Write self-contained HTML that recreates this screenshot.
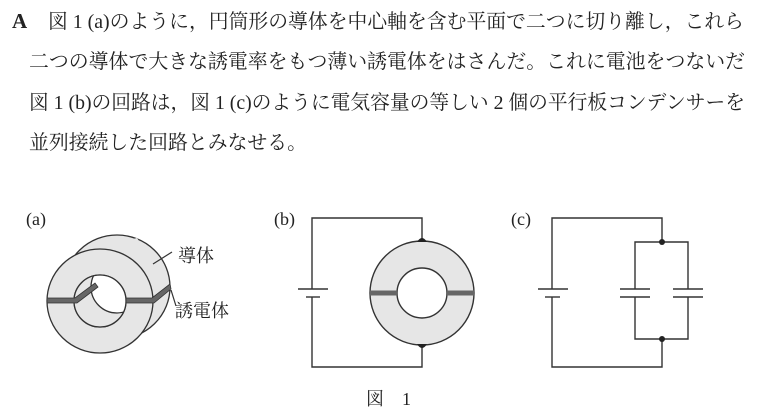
<!DOCTYPE html>
<html><head><meta charset="utf-8"><style>
html,body{margin:0;padding:0;background:#fff;}
svg{display:block}
text{font-family:"Liberation Serif","Noto Serif CJK SC",serif;fill:#222;}
</style></head><body>
<svg width="768" height="418" viewBox="0 0 768 418" xmlns="http://www.w3.org/2000/svg">
<defs><clipPath id="hole"><ellipse cx="100" cy="301" rx="26" ry="26"/></clipPath></defs>
<g font-size="20">
<text x="12" y="28" font-weight="bold" font-size="21">A</text>
<text x="48" y="28" textLength="696" lengthAdjust="spacingAndGlyphs">図 1 (a)のように，円筒形の導体を中心軸を含む平面で二つに切り離し，これら</text>
<text x="29" y="68" textLength="716" lengthAdjust="spacingAndGlyphs">二つの導体で大きな誘電率をもつ薄い誘電体をはさんだ。これに電池をつないだ</text>
<text x="29" y="109" textLength="716" lengthAdjust="spacingAndGlyphs">図 1 (b)の回路は，図 1 (c)のように電気容量の等しい 2 個の平行板コンデンサーを</text>
<text x="29" y="149" textLength="278" lengthAdjust="spacingAndGlyphs">並列接続した回路とみなせる。</text>
</g>
<g font-size="18">
<text x="26" y="225">(a)</text>
<text x="274" y="225">(b)</text>
<text x="511" y="225">(c)</text>
<text x="178" y="262">導体</text>
<text x="175" y="317">誘電体</text>
<text x="366" y="405">図　1</text>
</g>
<!-- (a) cylinder -->
<g stroke="#333" stroke-width="1.3" fill="#e6e6e6">
<ellipse cx="117" cy="287" rx="53" ry="52"/>
<path d="M80 262 L97 248 L137 238 L170 287 L152 310 L135 340 L117 339 L100 353 Z" stroke="none"/>
<ellipse cx="100" cy="301" rx="53" ry="52"/>
<ellipse cx="100" cy="301" rx="26" ry="26" fill="#fff"/>
<ellipse cx="117" cy="287" rx="26" ry="26" fill="#e6e6e6" stroke="none" clip-path="url(#hole)" transform="translate(0,0)"/>
</g>
<path d="M74 301 A26 26 0 0 1 100 275 L96 276 A26 26 0 0 0 91 313 A26 26 0 0 0 126 307 A26 26 0 0 1 74 301 Z" fill="#e6e6e6" opacity="0"/>
<g clip-path="url(#hole)">
<rect x="60" y="260" width="90" height="90" fill="#e6e6e6"/>
<ellipse cx="117" cy="287" rx="26" ry="26" fill="#fff" stroke="#333" stroke-width="1.3"/>
</g>
<ellipse cx="100" cy="301" rx="26" ry="26" fill="none" stroke="#333" stroke-width="1.3"/>
<g fill="#666" stroke="#333" stroke-width="0.8">
<path d="M47 298 L75 298 L95 283 L98 287 L77 303 L47 303 Z"/>
<path d="M126 298 L152 298 L170 284 L171 289 L154 303 L126 303 Z"/>
</g>
<line x1="153" y1="264" x2="172" y2="252" stroke="#333" stroke-width="1.2"/>
<line x1="171" y1="290" x2="176" y2="306" stroke="#333" stroke-width="1.2"/>
<!-- (b) -->
<g stroke="#333" stroke-width="1.4" fill="none">
<polyline points="312,289 312,218 422,218 422,241"/>
<polyline points="312,297 312,367 422,367 422,345"/>
<line x1="298" y1="289" x2="328" y2="289"/>
<line x1="306" y1="297" x2="320" y2="297"/>
<circle cx="422" cy="293" r="52" fill="#e6e6e6"/>
<circle cx="422" cy="293" r="25" fill="#fff"/>
</g>
<rect x="370" y="290.5" width="27" height="5" fill="#666"/>
<rect x="447" y="290.5" width="27" height="5" fill="#666"/>
<path d="M417 242 Q422 234 427 242 Z" fill="#222"/>
<path d="M417 344 Q422 352 427 344 Z" fill="#222"/>
<!-- (c) -->
<g stroke="#333" stroke-width="1.4" fill="none">
<polyline points="552,289 552,218 662,218 662,242"/>
<polyline points="552,297 552,367 662,367 662,339"/>
<line x1="538" y1="289" x2="568" y2="289"/>
<line x1="545" y1="297" x2="560" y2="297"/>
<polyline points="635,289 635,242 688,242 688,289"/>
<polyline points="635,297 635,339 688,339 688,297"/>
<line x1="620" y1="289" x2="650" y2="289"/>
<line x1="620" y1="297" x2="650" y2="297"/>
<line x1="673" y1="289" x2="703" y2="289"/>
<line x1="673" y1="297" x2="703" y2="297"/>
</g>
<circle cx="662" cy="242" r="3" fill="#222"/>
<circle cx="662" cy="339" r="3" fill="#222"/>
</svg>
</body></html>
